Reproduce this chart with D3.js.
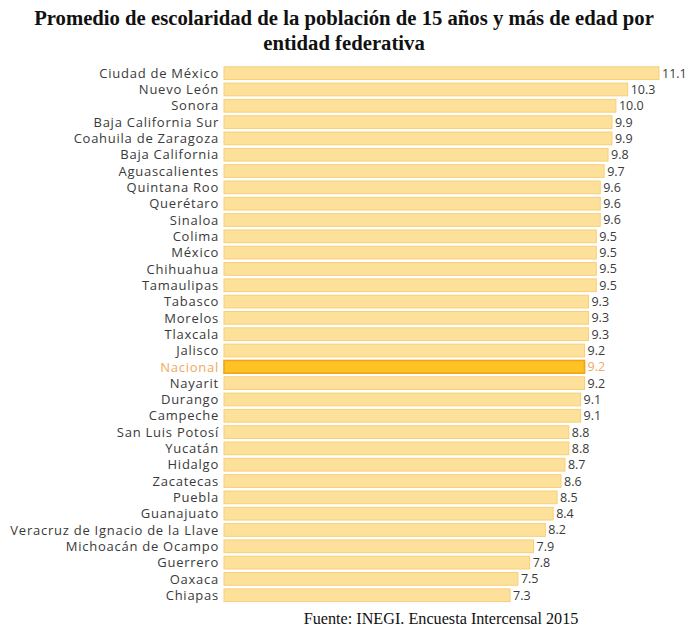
<!DOCTYPE html>
<html>
<head>
<meta charset="utf-8">
<script src="https://cdn.jsdelivr.net/npm/d3@7"></script>
<style>
  html, body { margin: 0; padding: 0; background: #fff; }
  svg { display: block; }
</style>
</head>
<body>
<script>
// Average years of schooling, population 15+, by state
const states = [
  "Ciudad de México", "Nuevo León", "Sonora", "Baja California Sur",
  "Coahuila de Zaragoza", "Baja California", "Aguascalientes", "Quintana Roo",
  "Querétaro", "Sinaloa", "Colima", "México", "Chihuahua", "Tamaulipas",
  "Tabasco", "Morelos", "Tlaxcala", "Jalisco", "Nacional", "Nayarit",
  "Durango", "Campeche", "San Luis Potosí", "Yucatán", "Hidalgo", "Zacatecas",
  "Puebla", "Guanajuato", "Veracruz de Ignacio de la Llave",
  "Michoacán de Ocampo", "Guerrero", "Oaxaca", "Chiapas"
];
const years = [
  11.1, 10.3, 10.0, 9.9, 9.9, 9.8, 9.7, 9.6, 9.6, 9.6, 9.5, 9.5, 9.5, 9.5,
  9.3, 9.3, 9.3, 9.2, 9.2, 9.2, 9.1, 9.1, 8.8, 8.8, 8.7, 8.6, 8.5, 8.4,
  8.2, 7.9, 7.8, 7.5, 7.3
];
const nationalLabel = "Nacional";
const titleLines = [
  "Promedio de escolaridad de la población de 15 años y más de edad por",
  "entidad federativa"
];
const sourceText = "Fuente: INEGI. Encuesta Intercensal 2015";

const rows = states.map((s, i) => ({ name: s, value: years[i] }));

const W = 686, H = 629;
const svg = d3.select("body").append("svg")
  .attr("width", W).attr("height", H);

// Title
svg.append("g").selectAll("text")
  .data(titleLines)
  .join("text")
  .attr("x", 344)
  .attr("y", (d, i) => 25 + i * 25)
  .attr("text-anchor", "middle")
  .attr("font-family", "'Liberation Serif', 'Times New Roman', serif")
  .attr("font-weight", "bold")
  .attr("font-size", 20.7)
  .attr("fill", "#111")
  .text(d => d);

// Scales
const x = d3.scaleLinear().domain([0, 11.1]).range([224, 659]);
const y = d3.scaleBand()
  .domain(states)
  .range([65, 603.4])
  .paddingInner(0.22)
  .paddingOuter(0.11);

const labelFont = "'Open Sans', 'Noto Sans', sans-serif";

const g = svg.append("g");

// Bars
g.selectAll("rect")
  .data(rows)
  .join("rect")
  .attr("x", x(0))
  .attr("y", d => y(d.name))
  .attr("width", d => x(d.value) - x(0))
  .attr("height", y.bandwidth())
  .attr("fill", d => d.name === nationalLabel ? "#fdc224" : "#fde19a")
  .attr("stroke", d => d.name === nationalLabel ? "#f3a21a" : "#f7cf78")
  .attr("stroke-width", d => d.name === nationalLabel ? 1.6 : 1);

// Category labels
g.selectAll("text.cat")
  .data(rows)
  .join("text")
  .attr("class", "cat")
  .attr("x", 219)
  .attr("y", d => y(d.name) + y.bandwidth() / 2)
  .attr("dy", "0.36em")
  .attr("text-anchor", "end")
  .attr("font-family", labelFont)
  .attr("font-size", 13)
  .attr("letter-spacing", 0.75)
  .attr("fill", d => d.name === nationalLabel ? "#f0a860" : "#3a3a3a")
  .text(d => d.name);

// Value labels
g.selectAll("text.val")
  .data(rows)
  .join("text")
  .attr("class", "val")
  .attr("x", d => x(d.value) + 3)
  .attr("y", d => y(d.name) + y.bandwidth() / 2)
  .attr("dy", "0.36em")
  .attr("font-family", labelFont)
  .attr("font-size", 12.5)
  .attr("fill", d => d.name === nationalLabel ? "#f0a860" : "#3a3a3a")
  .text(d => d3.format(".1f")(d.value));

// Source
svg.append("text")
  .attr("x", 441)
  .attr("y", 624)
  .attr("text-anchor", "middle")
  .attr("font-family", "'Liberation Serif', 'Times New Roman', serif")
  .attr("font-size", 16.2)
  .attr("fill", "#111")
  .text(sourceText);
</script>
</body>
</html>
